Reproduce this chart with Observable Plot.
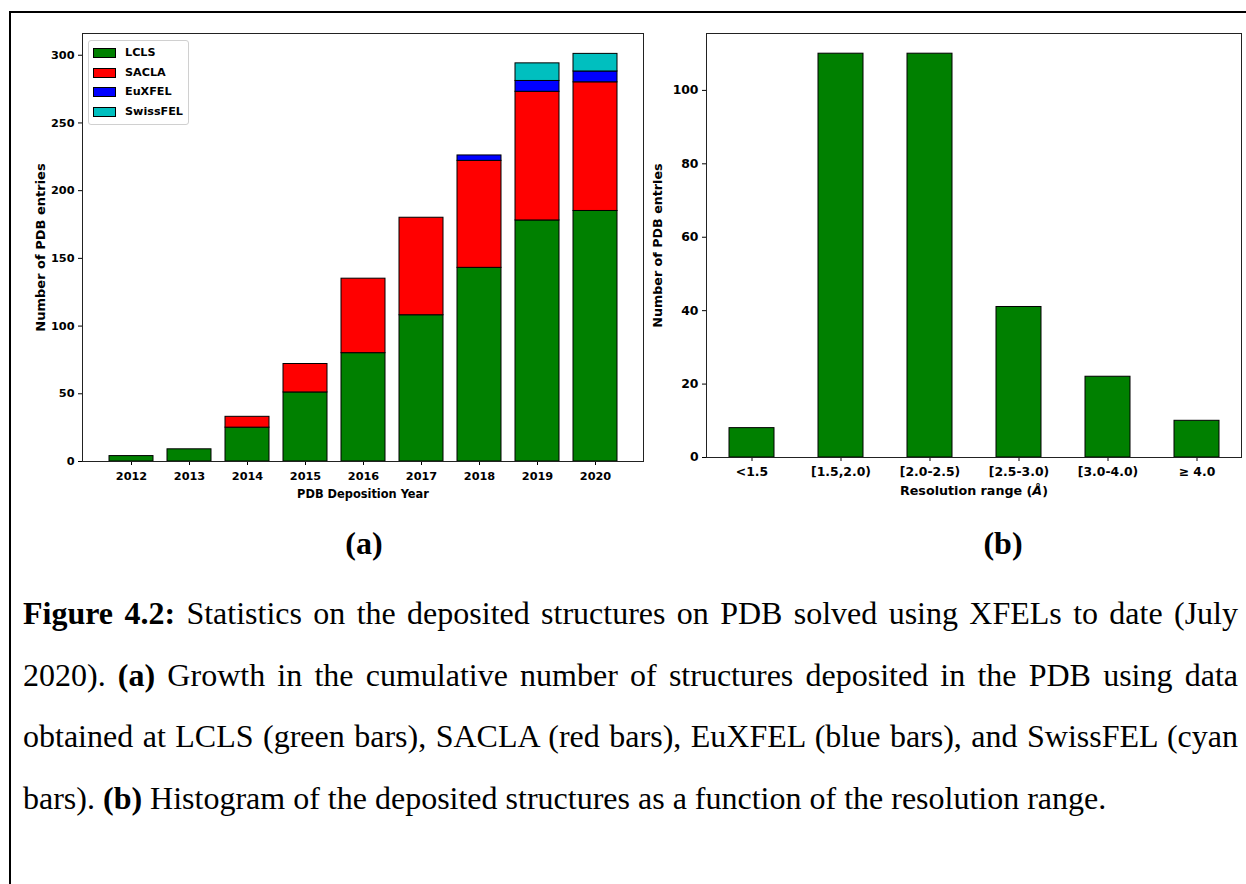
<!DOCTYPE html>
<html>
<head>
<meta charset="utf-8">
<script src="https://cdn.jsdelivr.net/npm/d3@7"></script>
<script src="https://cdn.jsdelivr.net/npm/@observablehq/plot@0.6"></script>
<style>
  html, body { margin: 0; padding: 0; background: #fff; }
  #page { position: relative; width: 1246px; height: 884px; overflow: hidden; background: #fff; }
  #border { position: absolute; left: 9px; top: 11px; width: 1300px; height: 900px; border-top: 2px solid #000; border-left: 2px solid #000; }
  .chart { position: absolute; top: 0; }
  .legend { position: absolute; left: 88px; top: 40px; width: 99px; height: 83px; border: 1px solid #d0d0d0; border-radius: 3px; background: rgba(255,255,255,0.8); font-family: "DejaVu Sans", sans-serif; font-weight: bold; font-size: 11.2px; }
  .legend .row { position: absolute; left: 0; height: 14px; line-height: 14px; }
  .legend .sw { position: absolute; left: 4px; top: 2px; width: 21px; height: 8px; border: 1px solid #000; }
  .legend .lab { position: absolute; left: 36px; top: 0; white-space: nowrap; }
  .panel { position: absolute; width: 200px; height: 40px; line-height: 40px; text-align: center; font-family: "Liberation Serif", "Times New Roman", serif; font-weight: bold; font-size: 32px; }
  #caption { position: absolute; left: 23px; top: 583px; width: 1215px; font-family: "Liberation Serif", "Times New Roman", serif; font-size: 32px; line-height: 61.7px; color: #000; }
  #caption .ln { text-align: justify; text-align-last: justify; white-space: nowrap; }
  #caption .ln.last { text-align: left; text-align-last: left; }
</style>
</head>
<body>
<div id="page">
  <div id="border"></div>
</div>
<script>
// ---- Data ----
const years = ["2012", "2013", "2014", "2015", "2016", "2017", "2018", "2019", "2020"];
const lclsCounts = [4, 9, 25, 51, 80, 108, 143, 178, 185];
const saclaCounts = [0, 0, 8, 21, 55, 72, 79, 95, 95];
const euxfelCounts = [0, 0, 0, 0, 0, 0, 4, 8, 8];
const swissfelCounts = [0, 0, 0, 0, 0, 0, 0, 13, 13];
const sources = ["LCLS", "SACLA", "EuXFEL", "SwissFEL"];
const sourceColors = ["#008000", "#ff0000", "#0000ff", "#00bfbf"];
const yearTicks = [0, 50, 100, 150, 200, 250, 300];

const resolutionBins = ["<1.5", "[1.5,2.0)", "[2.0-2.5)", "[2.5-3.0)", "[3.0-4.0)", "\u2265 4.0"];
const resolutionCounts = [8, 110, 110, 41, 22, 10];
const resolutionTicks = [0, 20, 40, 60, 80, 100];

const leftYLabel = "Number of PDB entries";
const leftXLabel = "PDB Deposition Year";
const rightYLabel = "Number of PDB entries";
const rightXLabel = "Resolution range (\u00C5)";

const captionLines = [
  ["Figure 4.2:", " Statistics on the deposited structures on PDB solved using XFELs to date (July"],
  ["", "2020). ", "(a)", " Growth in the cumulative number of structures deposited in the PDB using data"],
  ["", "obtained at LCLS (green bars), SACLA (red bars), EuXFEL (blue bars), and SwissFEL (cyan"],
  ["", "bars). ", "(b)", " Histogram of the deposited structures as a function of the resolution range."]
];

// ---- Build tables ----
const seriesBySource = [lclsCounts, saclaCounts, euxfelCounts, swissfelCounts];
const yearRows = years.flatMap((y, i) => sources.map((s, j) => ({year: y, source: s, count: seriesBySource[j][i]})));
const resRows = resolutionBins.map((b, i) => ({bin: b, count: resolutionCounts[i]}));

const page = document.getElementById("page");
const baseStyle = {fontFamily: "DejaVu Sans, sans-serif", fontWeight: "bold", color: "#000", background: "transparent", overflow: "visible"};

// ---- Left chart ----
const left = Plot.plot({
  width: 650, height: 510,
  marginLeft: 82, marginRight: 7, marginTop: 33, marginBottom: 49,
  style: {...baseStyle, fontSize: "11.3px"},
  x: {type: "band", domain: years, paddingInner: 0.25, paddingOuter: 0.4375, label: null, tickSize: 4, tickPadding: 6},
  y: {domain: [0, 301 * 1.05], ticks: yearTicks, label: null, tickSize: 4, tickPadding: 4},
  color: {domain: sources, range: sourceColors},
  marks: [
    Plot.barY(yearRows, {x: "year", y: "count", fill: "source", order: sources, stroke: "#000", strokeWidth: 1}),
    Plot.frame({stroke: "#222", strokeWidth: 1}),
    Plot.text([leftYLabel], {frameAnchor: "left", dx: -42, rotate: -90, textAnchor: "middle", lineAnchor: "middle", fontWeight: "bold", fontSize: 13}),
    Plot.text([leftXLabel], {frameAnchor: "bottom", dy: 33, textAnchor: "middle", lineAnchor: "middle", fontWeight: "bold", fontSize: 11.4})
  ]
});
left.classList.add("chart");
left.style.left = "0px";
page.appendChild(left);

// ---- Right chart ----
const right = Plot.plot({
  width: 606, height: 510,
  marginLeft: 66, marginRight: 5, marginTop: 33, marginBottom: 53,
  style: {...baseStyle, fontSize: "12.4px"},
  x: {type: "band", domain: resolutionBins, paddingInner: 0.5, paddingOuter: 0.25, label: null, tickSize: 4, tickPadding: 5.5},
  y: {domain: [0, 110 * 1.05], ticks: resolutionTicks, label: null, tickSize: 4, tickPadding: 4},
  marks: [
    Plot.barY(resRows, {x: "bin", y: "count", fill: "#008000", stroke: "#000", strokeWidth: 1}),
    Plot.frame({stroke: "#222", strokeWidth: 1}),
    Plot.text([rightYLabel], {frameAnchor: "left", dx: -49, rotate: -90, textAnchor: "middle", lineAnchor: "middle", fontWeight: "bold", fontSize: 12.7}),
    Plot.text([rightXLabel], {frameAnchor: "bottom", dy: 33, textAnchor: "middle", lineAnchor: "middle", fontWeight: "bold", fontSize: 12.7})
  ]
});
right.classList.add("chart");
right.style.left = "640px";
page.appendChild(right);

// italic Å in right x label
right.querySelectorAll("text").forEach(t => {
  if (t.textContent === rightXLabel) {
    t.textContent = "";
    const ns = "http://www.w3.org/2000/svg";
    const a = document.createElementNS(ns, "tspan"); a.textContent = "Resolution range (";
    const b = document.createElementNS(ns, "tspan"); b.textContent = "\u00C5"; b.setAttribute("font-style", "italic");
    const c = document.createElementNS(ns, "tspan"); c.textContent = ")";
    t.append(a, b, c);
  }
});

// ---- Legend ----
const legend = document.createElement("div");
legend.className = "legend";
const rowTops = [4.7, 24.7, 44.3, 64];
sources.forEach((s, i) => {
  const row = document.createElement("div");
  row.className = "row";
  row.style.top = rowTops[i] + "px";
  const sw = document.createElement("div");
  sw.className = "sw";
  sw.style.background = sourceColors[i];
  const lab = document.createElement("div");
  lab.className = "lab";
  lab.textContent = s;
  row.append(sw, lab);
  legend.appendChild(row);
});
page.appendChild(legend);

// ---- Panel labels ----
[["(a)", 364], ["(b)", 1003]].forEach(([t, cx]) => {
  const d = document.createElement("div");
  d.className = "panel";
  d.style.left = (cx - 100) + "px";
  d.style.top = (543 - 20) + "px";
  d.textContent = t;
  page.appendChild(d);
});

// ---- Caption ----
const cap = document.createElement("div");
cap.id = "caption";
captionLines.forEach((parts, i) => {
  const ln = document.createElement("div");
  ln.className = "ln" + (i === captionLines.length - 1 ? " last" : "");
  parts.forEach((p, k) => {
    if (!p) return;
    const sp = document.createElement("span");
    sp.textContent = p;
    const bold = (i === 0 && k === 0) || p === "(a)" || p === "(b)";
    if (bold) sp.style.fontWeight = "bold";
    ln.appendChild(sp);
  });
  cap.appendChild(ln);
});
page.appendChild(cap);
</script>
</body>
</html>
